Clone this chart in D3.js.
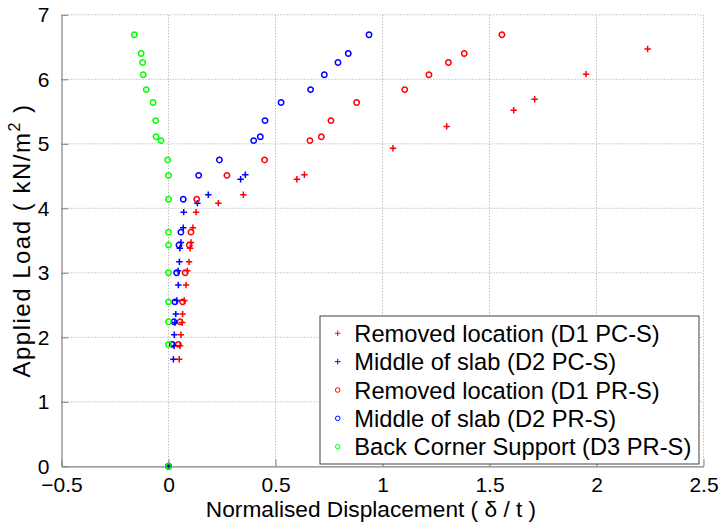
<!DOCTYPE html>
<html>
<head>
<meta charset="utf-8">
<script src="https://cdn.jsdelivr.net/npm/d3@7"></script>
<style>
  html, body { margin: 0; padding: 0; background: #fff; }
  svg { display: block; font-family: "Liberation Sans", Arial, sans-serif; }
</style>
</head>
<body>
<svg id="chart" width="722" height="522"></svg>
<script>
// Applied load levels (kN/m^2) for the PC-S readings (crosses)
const loadPCS = [0, 1.66, 1.87, 2.04, 2.23, 2.36, 2.57, 2.81, 3.03, 3.17, 3.38, 3.47, 3.70, 3.94, 4.08, 4.21, 4.45, 4.52, 4.93, 5.27, 5.52, 5.69, 6.08, 6.47];
// Normalised displacement, removed location (D1 PC-S)
const d1PCS = [0, 0.050, 0.054, 0.058, 0.064, 0.066, 0.074, 0.082, 0.088, 0.096, 0.101, 0.105, 0.114, 0.129, 0.233, 0.350, 0.600, 0.635, 1.049, 1.300, 1.613, 1.711, 1.951, 2.239];
// Normalised displacement, middle of slab (D2 PC-S) - gauge stops after 4.52
const d2PCS = [0, 0.023, 0.026, 0.027, 0.030, 0.034, 0.039, 0.046, 0.045, 0.051, 0.053, 0.058, 0.069, 0.071, 0.135, 0.186, 0.337, 0.359];

// Applied load levels (kN/m^2) for the PR-S readings (circles)
const loadPRS = [0, 1.89, 2.24, 2.55, 3.00, 3.43, 3.63, 4.14, 4.51, 4.75, 5.05, 5.11, 5.36, 5.64, 5.84, 6.07, 6.26, 6.40, 6.69];
const d1PRS = [0, 0.046, 0.054, 0.066, 0.078, 0.097, 0.105, 0.132, 0.273, 0.449, 0.661, 0.714, 0.759, 0.879, 1.104, 1.217, 1.308, 1.382, 1.558];
const d2PRS = [0, 0.018, 0.026, 0.030, 0.038, 0.049, 0.058, 0.069, 0.141, 0.238, 0.398, 0.429, 0.451, 0.526, 0.664, 0.728, 0.792, 0.840, 0.937];
const d3PRS = [0, 0, 0, 0, 0, 0, 0, 0, 0, -0.004, -0.035, -0.058, -0.060, -0.072, -0.104, -0.118, -0.121, -0.128, -0.160];

const xTicks = [-0.5, 0, 0.5, 1, 1.5, 2, 2.5];
const yTicks = [0, 1, 2, 3, 4, 5, 6, 7];

const seriesNames = [
  "Removed location (D1 PC-S)",
  "Middle of slab (D2 PC-S)",
  "Removed location (D1 PR-S)",
  "Middle of slab (D2 PR-S)",
  "Back Corner Support (D3 PR-S)"
];
const seriesColors = ["#ff0000", "#0000ff", "#ff0000", "#0000ff", "#00ff00"];
const seriesMarkers = ["plus", "plus", "circle", "circle", "circle"];

const series = [
  { x: d1PCS, y: loadPCS },
  { x: d2PCS, y: loadPCS },
  { x: d1PRS, y: loadPRS },
  { x: d2PRS, y: loadPRS },
  { x: d3PRS, y: loadPRS }
].map((s, i) => ({
  name: seriesNames[i], color: seriesColors[i], marker: seriesMarkers[i],
  points: s.x.map((v, j) => [v, s.y[j]])
}));

const svg = d3.select("#chart");
const margin = { left: 61.5, right: 18.5, top: 14.8, bottom: 55.7 };
const W = 722, H = 522;

const x = d3.scaleLinear().domain([-0.5, 2.5]).range([margin.left, W - margin.right]);
const y = d3.scaleLinear().domain([0, 7]).range([H - margin.bottom, margin.top]);

const axisColor = "#808080";

// dotted grid
const grid = svg.append("g");
grid.selectAll("line.gx").data(xTicks.slice(1)).join("line")
  .attr("x1", d => x(d)).attr("x2", d => x(d))
  .attr("y1", y(0)).attr("y2", y(7))
  .attr("stroke", "#a0a0a0").attr("stroke-width", 1).attr("stroke-dasharray", "1,2");
grid.selectAll("line.gy").data(yTicks.slice(1)).join("line")
  .attr("y1", d => y(d)).attr("y2", d => y(d))
  .attr("x1", x(-0.5)).attr("x2", x(2.5))
  .attr("stroke", "#a0a0a0").attr("stroke-width", 1).attr("stroke-dasharray", "1,2");

// axes
const xAxis = d3.axisBottom(x).tickValues(xTicks).tickFormat(d3.format("")).tickSizeInner(-7).tickSizeOuter(0).tickPadding(11);
const yAxis = d3.axisLeft(y).tickValues(yTicks).tickFormat(d3.format("d")).tickSizeInner(-7).tickSizeOuter(0).tickPadding(12);

const gx = svg.append("g").attr("transform", `translate(0,${y(0)})`).call(xAxis);
const gy = svg.append("g").attr("transform", `translate(${x(-0.5)},0)`).call(yAxis);
[gx, gy].forEach(g => {
  g.select(".domain").attr("stroke", axisColor).attr("stroke-width", 1.2);
  g.selectAll(".tick line").attr("stroke", axisColor).attr("stroke-width", 1);
  g.selectAll(".tick text").attr("fill", "#000").attr("font-size", 21)
    .attr("font-family", "Liberation Sans, Arial, sans-serif");
});

// markers
function drawMarker(sel, type, color, r, sw) {
  if (type === "circle") {
    sel.append("circle").attr("r", r).attr("fill", "none")
      .attr("stroke", color).attr("stroke-width", sw);
  } else {
    sel.append("path").attr("d", `M${-r},0H${r}M0,${-r}V${r}`)
      .attr("fill", "none").attr("stroke", color).attr("stroke-width", sw);
  }
}

const plot = svg.append("g");
series.forEach(s => {
  plot.append("g").selectAll("g").data(s.points).join("g")
    .attr("transform", d => `translate(${x(d[0])},${y(d[1])})`)
    .each(function () { drawMarker(d3.select(this), s.marker, s.color, s.marker === "circle" ? 2.7 : 3.2, 1.5); });
});

// axis titles
svg.append("text")
  .attr("x", 371).attr("y", 517)
  .attr("text-anchor", "middle").attr("font-size", 22.7).attr("fill", "#000")
  .text("Normalised Displacement ( δ  / t )");

const yl = svg.append("text")
  .attr("transform", `translate(30,${(y(0) + y(7)) / 2}) rotate(-90)`)
  .attr("text-anchor", "middle").attr("font-size", 24).attr("letter-spacing", 1.5)
  .attr("fill", "#000");
yl.append("tspan").text("Applied Load ( kN/m");
yl.append("tspan").attr("font-size", 16).attr("dy", -10).text("2");
yl.append("tspan").attr("dy", 10).text(" )");

// legend
const lg = svg.append("g").attr("transform", "translate(320,316)");
lg.append("rect").attr("width", 379).attr("height", 148)
  .attr("fill", "#fff").attr("stroke", "#404040").attr("stroke-width", 1);
const rows = lg.selectAll("g.row").data(series).join("g")
  .attr("transform", (d, i) => `translate(0,${17.3 + i * 28.35})`);
rows.each(function (d) {
  drawMarker(d3.select(this).append("g").attr("transform", "translate(17.7,0)"),
    d.marker, d.color, d.marker === "circle" ? 2.3 : 2.8, 1);
});
rows.append("text").attr("x", 34.3).attr("dy", "0.36em")
  .attr("font-size", 23.7).attr("fill", "#000").text(d => d.name);
</script>
</body>
</html>
